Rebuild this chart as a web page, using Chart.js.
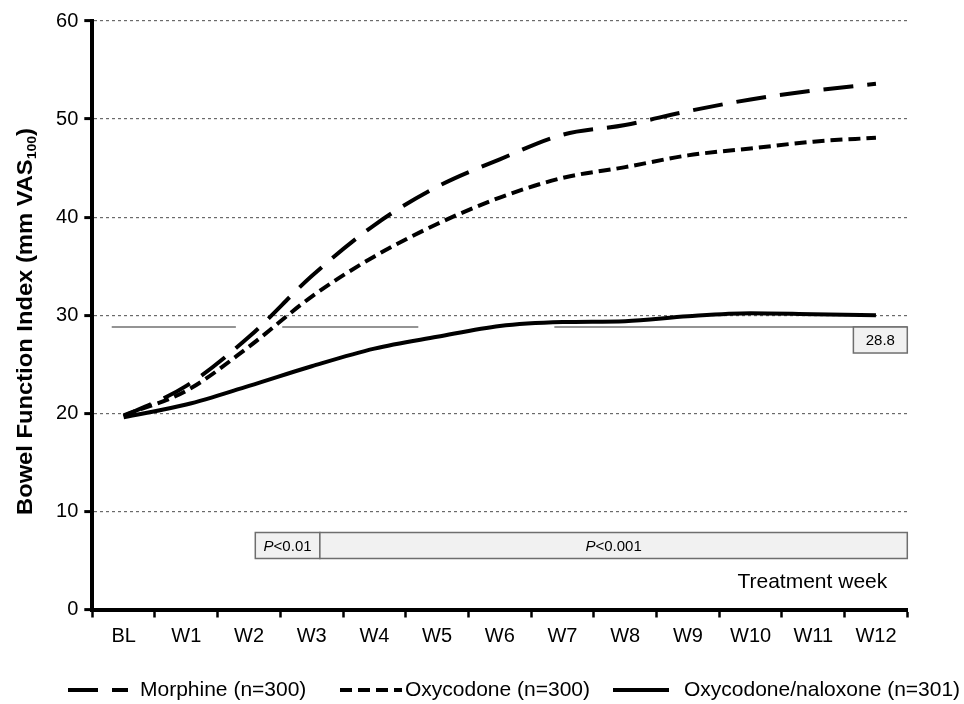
<!DOCTYPE html>
<html>
<head>
<meta charset="utf-8">
<script src="https://cdn.jsdelivr.net/npm/chart.js@4.4.0/dist/chart.umd.min.js"></script>
<style>
	html, body { margin: 0; padding: 0; background: #fff; }
	#wrap { width: 964px; height: 704px; }
</style>
</head>
<body>
<div id="wrap"><canvas id="chart" width="964" height="704"></canvas></div>
<script>
// values
const weeks = ["BL", "W1", "W2", "W3", "W4", "W5", "W6", "W7", "W8", "W9", "W10", "W11", "W12"];
const morphine = [19.7, 22.8, 27.8, 34.0, 39.2, 43.1, 45.9, 48.4, 49.4, 50.8, 52.0, 52.9, 53.6];
const oxycodone = [19.8, 22.3, 26.8, 31.9, 36.0, 39.3, 42.0, 44.0, 45.1, 46.3, 47.0, 47.7, 48.1];
const oxyNaloxone = [19.6, 20.9, 22.8, 24.8, 26.6, 27.8, 28.9, 29.3, 29.4, 29.9, 30.2, 30.1, 30.0];
const seriesNames = ["Morphine (n=300)", "Oxycodone (n=300)", "Oxycodone/naloxone (n=301)"];
const referenceValue = 28.8;
const pLabels = ["<0.01", "<0.001"];
const xTitle = "Treatment week";

const FONT = "'Liberation Sans', Arial, sans-serif";
const morphineDash = [30, 14];
const oxycodoneDash = [12, 6];

function drawText(ctx, text, x, y, size, align, weight, style)
{
	ctx.font = (style || "normal") + " " + (weight || "normal") + " " + size + "px " + FONT;
	ctx.textAlign = align || "left";
	ctx.textBaseline = "middle";
	ctx.fillStyle = "#000";
	ctx.fillText(text, x, y);
}

// P label: italic P followed by the rest
function drawPLabel(ctx, rest, cx, cy, size)
{
	ctx.font = "italic " + size + "px " + FONT;
	const w1 = ctx.measureText("P").width;
	ctx.font = size + "px " + FONT;
	const w2 = ctx.measureText(rest).width;
	const start = cx - (w1 + w2) / 2;
	drawText(ctx, "P", start, cy, size, "left", "normal", "italic");
	drawText(ctx, rest, start + w1, cy, size, "left");
}

function box(ctx, x1, y1, x2, y2)
{
	ctx.save();
	ctx.fillStyle = "#f1f1f1";
	ctx.fillRect(x1, y1, x2 - x1, y2 - y1);
	ctx.strokeStyle = "#6e6e6e";
	ctx.lineWidth = 1.5;
	ctx.strokeRect(x1, y1, x2 - x1, y2 - y1);
	ctx.restore();
}

const annotations =
{
	id: "annotations",
	beforeDatasetsDraw(chart)
	{
		const ctx = chart.ctx;
		const xs = chart.scales.x;
		const ys = chart.scales.y;
		const yRef = ys.getPixelForValue(referenceValue);

		// 28.8 reference line, broken where the curves cross
		ctx.save();
		ctx.strokeStyle = "#707070";
		ctx.lineWidth = 1.5;
		for (const [a, b] of [[-0.19, 1.79], [2.53, 4.70], [6.87, 12.5]])
		{
			ctx.beginPath();
			ctx.moveTo(xs.getPixelForValue(a), yRef);
			ctx.lineTo(xs.getPixelForValue(b), yRef);
			ctx.stroke();
		}
		ctx.restore();

		// value box
		const bx1 = xs.getPixelForValue(11.64), bx2 = xs.getPixelForValue(12.5);
		const by2 = ys.getPixelForValue(referenceValue - 2.65);
		box(ctx, bx1, yRef, bx2, by2);
		drawText(ctx, referenceValue.toFixed(1), (bx1 + bx2) / 2, (yRef + by2) / 2 + 1, 15, "center");

		// significance boxes
		const py1 = ys.getPixelForValue(7.85), py2 = ys.getPixelForValue(5.2);
		const edges = [2.10, 3.13, 12.5];
		for (let i = 0; i < pLabels.length; i++)
		{
			const x1 = xs.getPixelForValue(edges[i]), x2 = xs.getPixelForValue(edges[i + 1]);
			box(ctx, x1, py1, x2, py2);
			drawPLabel(ctx, pLabels[i], (x1 + x2) / 2, (py1 + py2) / 2 + 1, 15);
		}

		drawText(ctx, xTitle, xs.getPixelForValue(12.18), ys.getPixelForValue(2.8), 21, "right");
	},
	afterDraw(chart)
	{
		const ctx = chart.ctx;

		// y title, with subscript
		ctx.save();
		ctx.translate(24, 321.5);
		ctx.rotate(-Math.PI / 2);
		const main = "Bowel Function Index (mm VAS", sub = "100", close = ")";
		const big = "bold 22px " + FONT, small = "bold 13px " + FONT;
		ctx.font = big;
		const wMain = ctx.measureText(main).width, wClose = ctx.measureText(close).width;
		ctx.font = small;
		const wSub = ctx.measureText(sub).width;
		const total = wMain + wSub + wClose;
		ctx.scale(387 / total, 1);
		ctx.fillStyle = "#000";
		ctx.textBaseline = "alphabetic";
		ctx.textAlign = "left";
		let x = -total / 2;
		ctx.font = big; ctx.fillText(main, x, 8); x += wMain;
		ctx.font = small; ctx.fillText(sub, x, 12); x += wSub;
		ctx.font = big; ctx.fillText(close, x, 8);
		ctx.restore();

		// legend
		const ly = 690;
		const items = [
			{ x1: 68, x2: 128, dash: morphineDash, tx: 140 },
			{ x1: 340, x2: 402, dash: oxycodoneDash, tx: 405 },
			{ x1: 613, x2: 669, dash: [], tx: 684 }
		];
		items.forEach((it, i) =>
		{
			ctx.save();
			ctx.strokeStyle = "#000";
			ctx.lineWidth = 4;
			ctx.setLineDash(it.dash);
			ctx.beginPath();
			ctx.moveTo(it.x1, ly);
			ctx.lineTo(it.x2, ly);
			ctx.stroke();
			ctx.restore();
			drawText(ctx, seriesNames[i], it.tx, ly, 21, "left");
		});
	}
};

new Chart(document.getElementById("chart").getContext("2d"),
{
	type: "line",
	data:
	{
		labels: weeks,
		datasets:
		[{
			label: seriesNames[0],
			data: morphine,
			borderDash: morphineDash
		},
		{
			label: seriesNames[1],
			data: oxycodone,
			borderDash: oxycodoneDash
		},
		{
			label: seriesNames[2],
			data: oxyNaloxone
		}]
	},
	options:
	{
		responsive: false,
		animation: false,
		layout: { padding: { top: 21, right: 56.7, left: 0, bottom: 0 } },
		plugins:
		{
			legend: { display: false },
			tooltip: { enabled: false }
		},
		elements:
		{
			point: { radius: 0 },
			line:
			{
				borderWidth: 4,
				borderColor: "#000",
				cubicInterpolationMode: "monotone",
				borderCapStyle: "butt",
				borderJoinStyle: "round",
				fill: false
			}
		},
		scales:
		{
			x:
			{
				offset: true,
				grid:
				{
					display: true,
					drawOnChartArea: false,
					drawTicks: true,
					offset: true,
					tickLength: 8,
					tickWidth: 2.5,
					tickColor: "#000"
				},
				border: { display: true, color: "#000", width: 4 },
				ticks:
				{
					color: "#000",
					font: { family: FONT, size: 20 },
					padding: 7,
					maxRotation: 0,
					autoSkip: false
				},
				afterFit(scale) { scale.height = 94.5; }
			},
			y:
			{
				min: 0,
				max: 60,
				ticks:
				{
					stepSize: 10,
					color: "#000",
					font: { family: FONT, size: 20 },
					padding: 6
				},
				grid:
				{
					color: "#6a6a6a",
					lineWidth: 1.2,
					drawTicks: true,
					tickLength: 8,
					tickWidth: 3,
					tickColor: "#000"
				},
				border: { display: true, color: "#000", width: 4, dash: [3, 3] },
				afterFit(scale) { scale.width = 92.3; }
			}
		}
	},
	plugins: [annotations]
});
</script>
</body>
</html>
